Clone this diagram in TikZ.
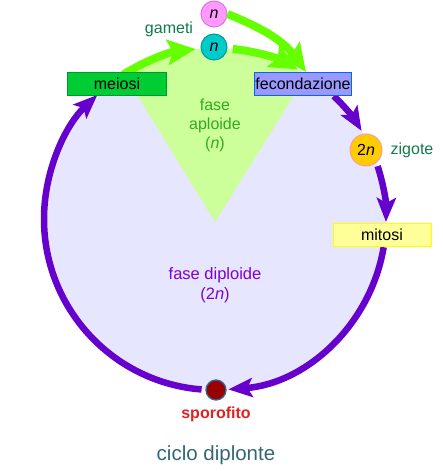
\documentclass[tikz,border=0pt]{standalone}
\usepackage{fontspec}
\setmainfont{Liberation Sans}
\usetikzlibrary{arrows.meta,calc}
\definecolor{lav}{HTML}{E6E6FF}
\definecolor{lgreen}{HTML}{CCFF99}
\definecolor{purp}{HTML}{6600CC}
\definecolor{grn}{HTML}{66FF00}
\definecolor{meifill}{HTML}{00CC33}
\definecolor{meidraw}{HTML}{009933}
\definecolor{fecfill}{HTML}{9999FF}
\definecolor{fecdraw}{HTML}{0066FF}
\definecolor{mitfill}{HTML}{FFFF99}
\definecolor{mitdraw}{HTML}{FFFF00}
\definecolor{zigfill}{HTML}{FFCC00}
\definecolor{zigdraw}{HTML}{FF9999}
\definecolor{pinkfill}{HTML}{FF99FF}
\definecolor{pinkdraw}{HTML}{DD77DD}
\definecolor{cyanfill}{HTML}{00CCCC}
\definecolor{cyandraw}{HTML}{009999}
\definecolor{spofill}{HTML}{990000}
\definecolor{spodraw}{HTML}{336699}
\definecolor{teal}{HTML}{107A4A}
\definecolor{title}{HTML}{336677}
\definecolor{aplo}{HTML}{33AA22}
\definecolor{diplo}{HTML}{8000D0}
\definecolor{spored}{HTML}{DD2222}
\begin{document}
\begin{tikzpicture}[x=1pt,y=1pt,
  lbl/.style={font=\fontsize{16}{19}\selectfont, inner sep=0pt},
  box/.style={draw, line width=1pt, minimum height=23pt, inner sep=0pt, font=\fontsize{16}{19}\selectfont},
  ball/.style={circle, draw, line width=1pt, inner sep=0pt, font=\fontsize{16}{19}\selectfont},
  parrow/.style={purp, line width=6.5pt, -{Stealth[length=24pt,width=19pt,inset=5pt]}},
  garrow/.style={grn, line width=8pt, -{Stealth[length=28pt,width=25pt,inset=5pt]}}
]
\useasboundingbox (0,0) rectangle (443,471);
\coordinate (c) at (215,252);
\fill[lav] (c) circle[radius=171];
\fill[lgreen] (215,249) -- ($(c)+(57.5:171)$) arc[start angle=57.5,end angle=122,radius=171] -- cycle;

% purple arcs
\coordinate (p1) at ($(c)+(-94.5:171)$);
\draw[parrow] (p1) arc[start angle=-94.5, end angle=-226.5, radius=171];
\coordinate (p2) at ($(c)+(46:171)$);
\draw[parrow] (p2) arc[start angle=46, end angle=31, radius=171];
\coordinate (p3) at ($(c)+(18:171)$);
\draw[parrow] (p3) arc[start angle=18, end angle=-1, radius=171];
\coordinate (p4) at ($(c)+(-9.5:171)$);
\draw[parrow] (p4) arc[start angle=-9.5, end angle=-85.5, radius=171];

% green arcs
\coordinate (g1) at ($(c)+(122.5:171)$);
\draw[garrow] (g1) arc[start angle=122.5, end angle=96.5, radius=171];
\coordinate (g2) at ($(c)+(84:171)$);
\draw[garrow] (g2) arc[start angle=84, end angle=61, radius=171];

% nodes
\node[box, fill=meifill, draw=meidraw, minimum width=99pt] (mei) at (117,387) {meiosi};
\node[box, fill=fecfill, draw=fecdraw, minimum width=97pt] (fec) at (303,387) {fecondazione};
\node[box, fill=mitfill, draw=mitdraw, minimum width=98pt] (mit) at (382,236) {mitosi};
\node[ball, fill=pinkfill, draw=pinkdraw, minimum size=26pt] (pink) at (214,457) {\itshape n};
\node[ball, fill=cyanfill, draw=cyandraw, minimum size=26pt] (cyan) at (214,424) {\itshape n};
\node[ball, fill=zigfill, draw=zigdraw, minimum size=32pt] (zig) at (366,321) {2\itshape n};
\node[ball, fill=spofill, draw=spodraw, line width=1.3pt, minimum size=20pt] (spo) at (216,81) {};

\coordinate (fectop) at (306,399);
\draw[garrow] (pink.east) to[out=-22,in=126] (fectop);

% labels
\node[lbl, text=teal] (gam) at (169,442) {gameti};
\node[lbl, text=teal] (zigl) at (412,321) {zigote};
\node[lbl, text=aplo, align=center] (aplol) at (215,346) {fase\\aploide\\(\textit{n})};
\node[lbl, text=diplo, align=center, font=\fontsize{16.5}{20}\selectfont] (diplol) at (215,186) {fase diploide\\(2\textit{n})};
\node[lbl, text=spored, font=\fontsize{16}{19}\bfseries] (spol) at (216,57) {sporofito};
\node[lbl, text=title, font=\fontsize{20.5}{22}\selectfont] (tit) at (216,16) {ciclo diplonte};
\end{tikzpicture}
\end{document}
